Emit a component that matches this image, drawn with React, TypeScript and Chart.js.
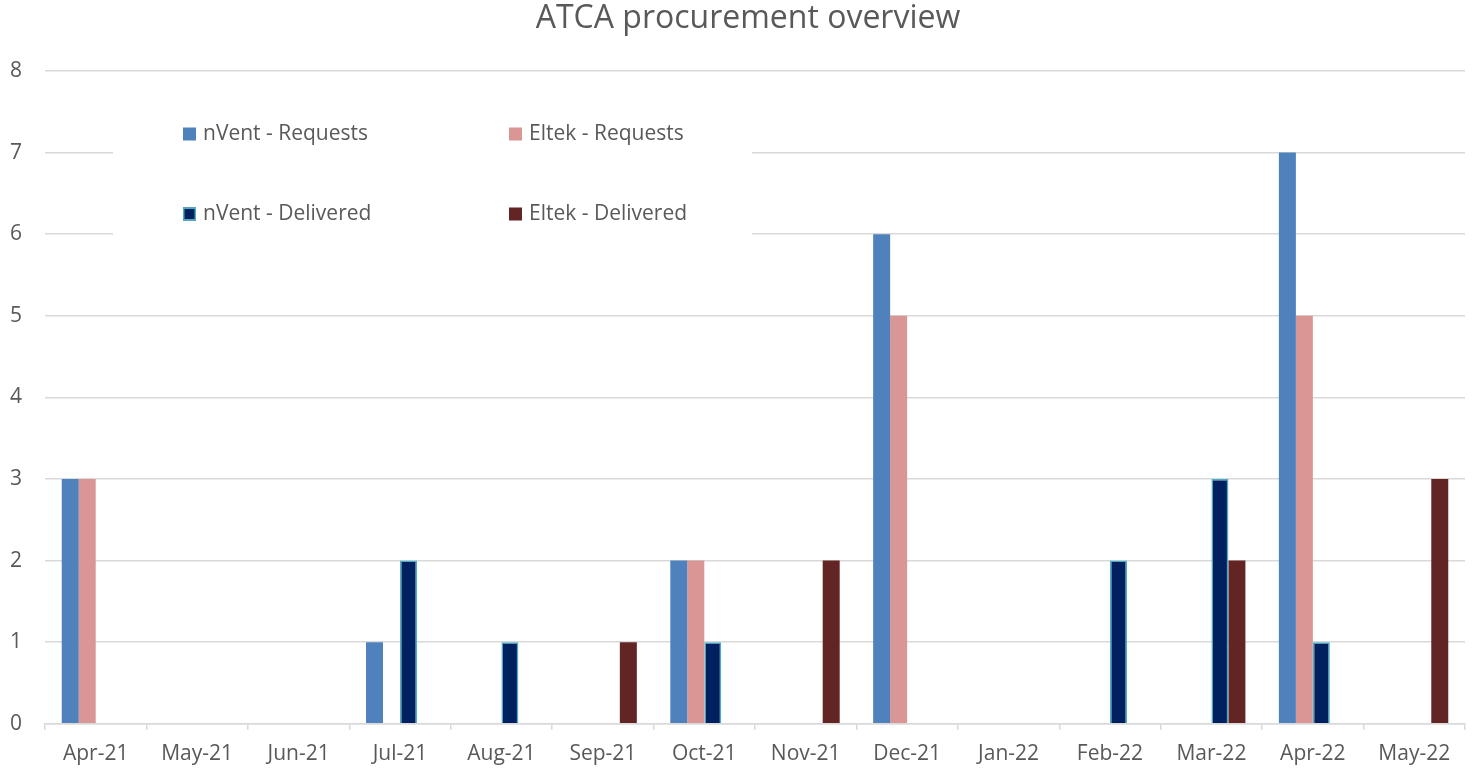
import React, { useEffect, useRef } from "react";
import { Chart, registerables } from "chart.js";

Chart.register(...registerables);

const categories = [
  "Apr-21", "May-21", "Jun-21", "Jul-21", "Aug-21", "Sep-21", "Oct-21",
  "Nov-21", "Dec-21", "Jan-22", "Feb-22", "Mar-22", "Apr-22", "May-22",
];
const nventRequests = [3, null, null, 1, null, null, 2, null, 6, null, null, null, 7, null];
const eltekRequests = [3, null, null, null, null, null, 2, null, 5, null, null, null, 5, null];
const nventDelivered = [null, null, null, 2, 1, null, 1, null, null, null, 2, 3, 1, null];
const eltekDelivered = [null, null, null, null, null, 1, null, 2, null, null, null, 2, null, 3];
const yTicks = [0, 1, 2, 3, 4, 5, 6, 7, 8];
const chartTitle = "ATCA procurement overview";

const FONT = "'Open Sans', sans-serif";
const TEXT = "#595959";
const GRID = "#d9d9d9";

const titlePlugin = {
  id: "offsetTitle",
  afterDraw(chart: any) {
    const ctx = chart.ctx;
    ctx.save();
    ctx.fillStyle = TEXT;
    ctx.font = `32px ${FONT}`;
    ctx.textAlign = "center";
    ctx.textBaseline = "middle";
    ctx.fillText(chartTitle, 748, 19);
    ctx.restore();
  },
};

const legendPlugin = {
  id: "boxLegend",
  afterDatasetsDraw(chart: any) {
    const ctx = chart.ctx;
    ctx.save();
    ctx.fillStyle = "#ffffff";
    ctx.fillRect(113, 88, 639, 170);
    const cols = [183, 509];
    const rows = [134, 214];
    chart.data.datasets.forEach((ds: any, i: number) => {
      const x = cols[i % 2];
      const y = rows[Math.floor(i / 2)];
      const s = 13;
      ctx.fillStyle = ds.backgroundColor;
      ctx.fillRect(x, y - s / 2, s, s);
      if (ds.borderWidth) {
        ctx.strokeStyle = ds.borderColor;
        ctx.lineWidth = 1.5;
        ctx.strokeRect(x + 0.75, y - s / 2 + 0.75, s - 1.5, s - 1.5);
      }
      ctx.fillStyle = TEXT;
      ctx.font = `21px ${FONT}`;
      ctx.textBaseline = "middle";
      ctx.textAlign = "left";
      ctx.fillText(ds.label, x + 20, y);
    });
    ctx.restore();
  },
};

export default function App() {
  const ref = useRef<HTMLCanvasElement | null>(null);
  useEffect(() => {
    document.body.style.margin = "0";
    const chart = new Chart(ref.current!, {
      type: "bar",
      data: {
        labels: categories,
        datasets: [
          { label: "nVent - Requests", data: nventRequests, backgroundColor: "#4F81BD", borderWidth: 0 },
          { label: "Eltek - Requests", data: eltekRequests, backgroundColor: "#D99694", borderWidth: 0 },
          { label: "nVent - Delivered", data: nventDelivered, backgroundColor: "#002060", borderColor: "#4BACC6", borderWidth: 1.5 },
          { label: "Eltek - Delivered", data: eltekDelivered, backgroundColor: "#632523", borderWidth: 0 },
        ],
      },
      options: {
        animation: false,
        responsive: false,
        maintainAspectRatio: false,
        layout: { padding: { left: 0, right: 11, top: 71, bottom: -11 } },
        datasets: { bar: { barPercentage: 1, categoryPercentage: 0.67 } },
        plugins: {
          legend: { display: false },
          tooltip: { enabled: false },
          title: { display: false },
        },
        scales: {
          x: {
            grid: { drawOnChartArea: false, drawTicks: true, tickLength: 6, color: GRID, lineWidth: 1.5 },
            border: { display: true, color: GRID, width: 1.5 },
            ticks: { color: TEXT, font: { family: FONT, size: 21 }, padding: 12, maxRotation: 0, autoSkip: false },
          },
          y: {
            min: 0,
            max: 8,
            afterBuildTicks(axis: any) {
              axis.ticks = yTicks.map((v) => ({ value: v }));
            },
            afterFit(axis: any) {
              axis.width = 45;
            },
            grid: { drawTicks: false, color: GRID, lineWidth: 1.5 },
            border: { display: false },
            ticks: { color: TEXT, font: { family: FONT, size: 21 }, padding: 23 },
          },
        },
      },
      plugins: [legendPlugin, titlePlugin],
    });
    return () => chart.destroy();
  }, []);
  return <canvas ref={ref} width={1476} height={768} style={{ display: "block" }} />;
}
